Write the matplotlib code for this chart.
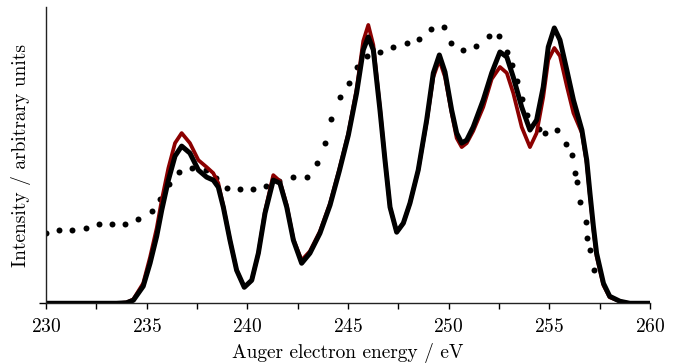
import matplotlib
matplotlib.use("Agg")
import matplotlib.pyplot as plt
from matplotlib.ticker import MultipleLocator

plt.rcParams['font.family'] = ['cmr10', 'DejaVu Serif']
plt.rcParams['axes.formatter.use_mathtext'] = True
plt.rcParams['mathtext.fontset'] = 'cm'

# Auger electron energy (eV) for the calculated spectra
energy = [230, 233.5, 234.0, 234.34, 234.83, 235.17, 235.5, 235.75, 236.08, 236.41,
          236.74, 237.15, 237.57, 237.98, 238.31, 238.56, 238.81, 239.14, 239.47, 239.85,
          240.22, 240.55, 240.88, 241.29, 241.62, 241.96, 242.29, 242.70, 243.11, 243.61,
          244.11, 244.57, 245.02, 245.43, 245.76, 246.01, 246.26, 246.59, 246.84, 247.09,
          247.42, 247.75, 248.08, 248.49, 248.91, 249.24, 249.54, 249.82, 250.15, 250.40,
          250.65, 250.90, 251.22, 251.72, 252.14, 252.55, 252.89, 253.21, 253.63, 254.04,
          254.37, 254.70, 254.95, 255.25, 255.53, 255.87, 256.20, 256.62, 256.86, 257.02,
          257.19, 257.35, 257.69, 258.0, 258.51, 259.0, 260.0]

# black calculated spectrum
calc_black = [0, 0, 0.5, 3, 17, 40, 67, 93, 123, 147,
              157, 150, 133, 126, 123, 116, 96, 63, 33, 16,
              23, 50, 90, 123, 120, 96, 63, 40, 50, 70,
              98, 132, 168, 210, 253, 266, 253, 193, 143, 96,
              71, 80, 100, 133, 183, 230, 248, 231, 193, 170,
              160, 163, 176, 203, 230, 251, 246, 226, 196, 173,
              183, 216, 256, 275, 263, 233, 203, 173, 143, 110,
              77, 50, 20, 7, 2, 0, 0]

# dark red calculated spectrum
calc_red = [0, 0, 0.8, 4, 20, 46, 75, 103, 135, 160,
            170, 160, 143, 136, 130, 120, 97, 63, 33, 16,
            23, 50, 92, 128, 122, 98, 64, 43, 52, 72,
            100, 134, 170, 214, 262, 278, 258, 195, 143, 96,
            71, 80, 100, 133, 181, 226, 243, 226, 190, 165,
            156, 160, 172, 196, 224, 236, 230, 210, 176, 156,
            170, 206, 243, 255, 247, 217, 190, 170, 140, 107,
            74, 47, 18, 6, 2, 0, 0]

# experimental spectrum (dots)
exp_energy = [230.0, 230.66, 231.31, 231.97, 232.62, 233.26, 233.91, 234.55, 235.25, 235.68,
              236.11, 236.61, 237.27, 237.93, 238.45, 239.0, 239.65, 240.30, 240.93, 241.59,
              242.25, 242.97, 243.46, 243.88, 244.17, 244.60, 245.07, 245.43, 245.93, 246.59,
              247.25, 247.92, 248.55, 249.11, 249.77, 250.10, 250.70, 251.36, 252.01, 252.52,
              252.89, 253.15, 253.38, 253.65, 253.91, 254.49, 254.77, 255.37, 255.85, 256.11,
              256.28, 256.39, 256.54, 256.83, 256.89, 257.02, 257.21]
exp_int = [70, 73, 73, 75, 79, 79, 79, 84, 92, 104,
           119, 131, 135, 133, 125, 115, 114, 114, 117, 122,
           126, 126, 140, 160, 184, 206, 220, 236, 247, 251,
           256, 260, 264, 274, 276, 260, 253, 257, 267, 267,
           251, 238, 222, 204, 188, 174, 170, 173, 159, 148,
           130, 121, 101, 81, 65, 53, 33]

fig = plt.figure(figsize=(6.8, 3.64), dpi=100)
ax = fig.add_axes([0.0676, 0.1668, 0.8882, 0.8142])

ax.plot(exp_energy, exp_int, linestyle='none', marker='o', markersize=4.3,
        color='black', markeredgewidth=0)
ax.plot(energy, calc_red, color='#8b0000', linewidth=2.7, solid_joinstyle='round')
ax.plot(energy, calc_black, color='black', linewidth=3.6, solid_joinstyle='round')

ax.set_xlim(230, 260)
ax.set_ylim(0, 296)
ax.xaxis.set_major_locator(MultipleLocator(5))
ax.xaxis.set_minor_locator(MultipleLocator(2.5))
ax.set_yticks([0])
ax.set_yticklabels([])
ax.tick_params(axis='x', which='both', direction='out', length=4, width=1.0,
               labelsize=14, pad=6.5)
ax.tick_params(axis='y', direction='out', length=5, width=1.0)
for s in ['top', 'right']:
    ax.spines[s].set_visible(False)
for s in ['left', 'bottom']:
    ax.spines[s].set_linewidth(1.0)
    ax.spines[s].set_color('#222222')

ax.set_xlabel('Auger electron energy / eV', fontsize=14, labelpad=5)
ax.set_ylabel('Intensity / arbitrary units', fontsize=14, labelpad=2)

fig.savefig('out.png', dpi=100)
